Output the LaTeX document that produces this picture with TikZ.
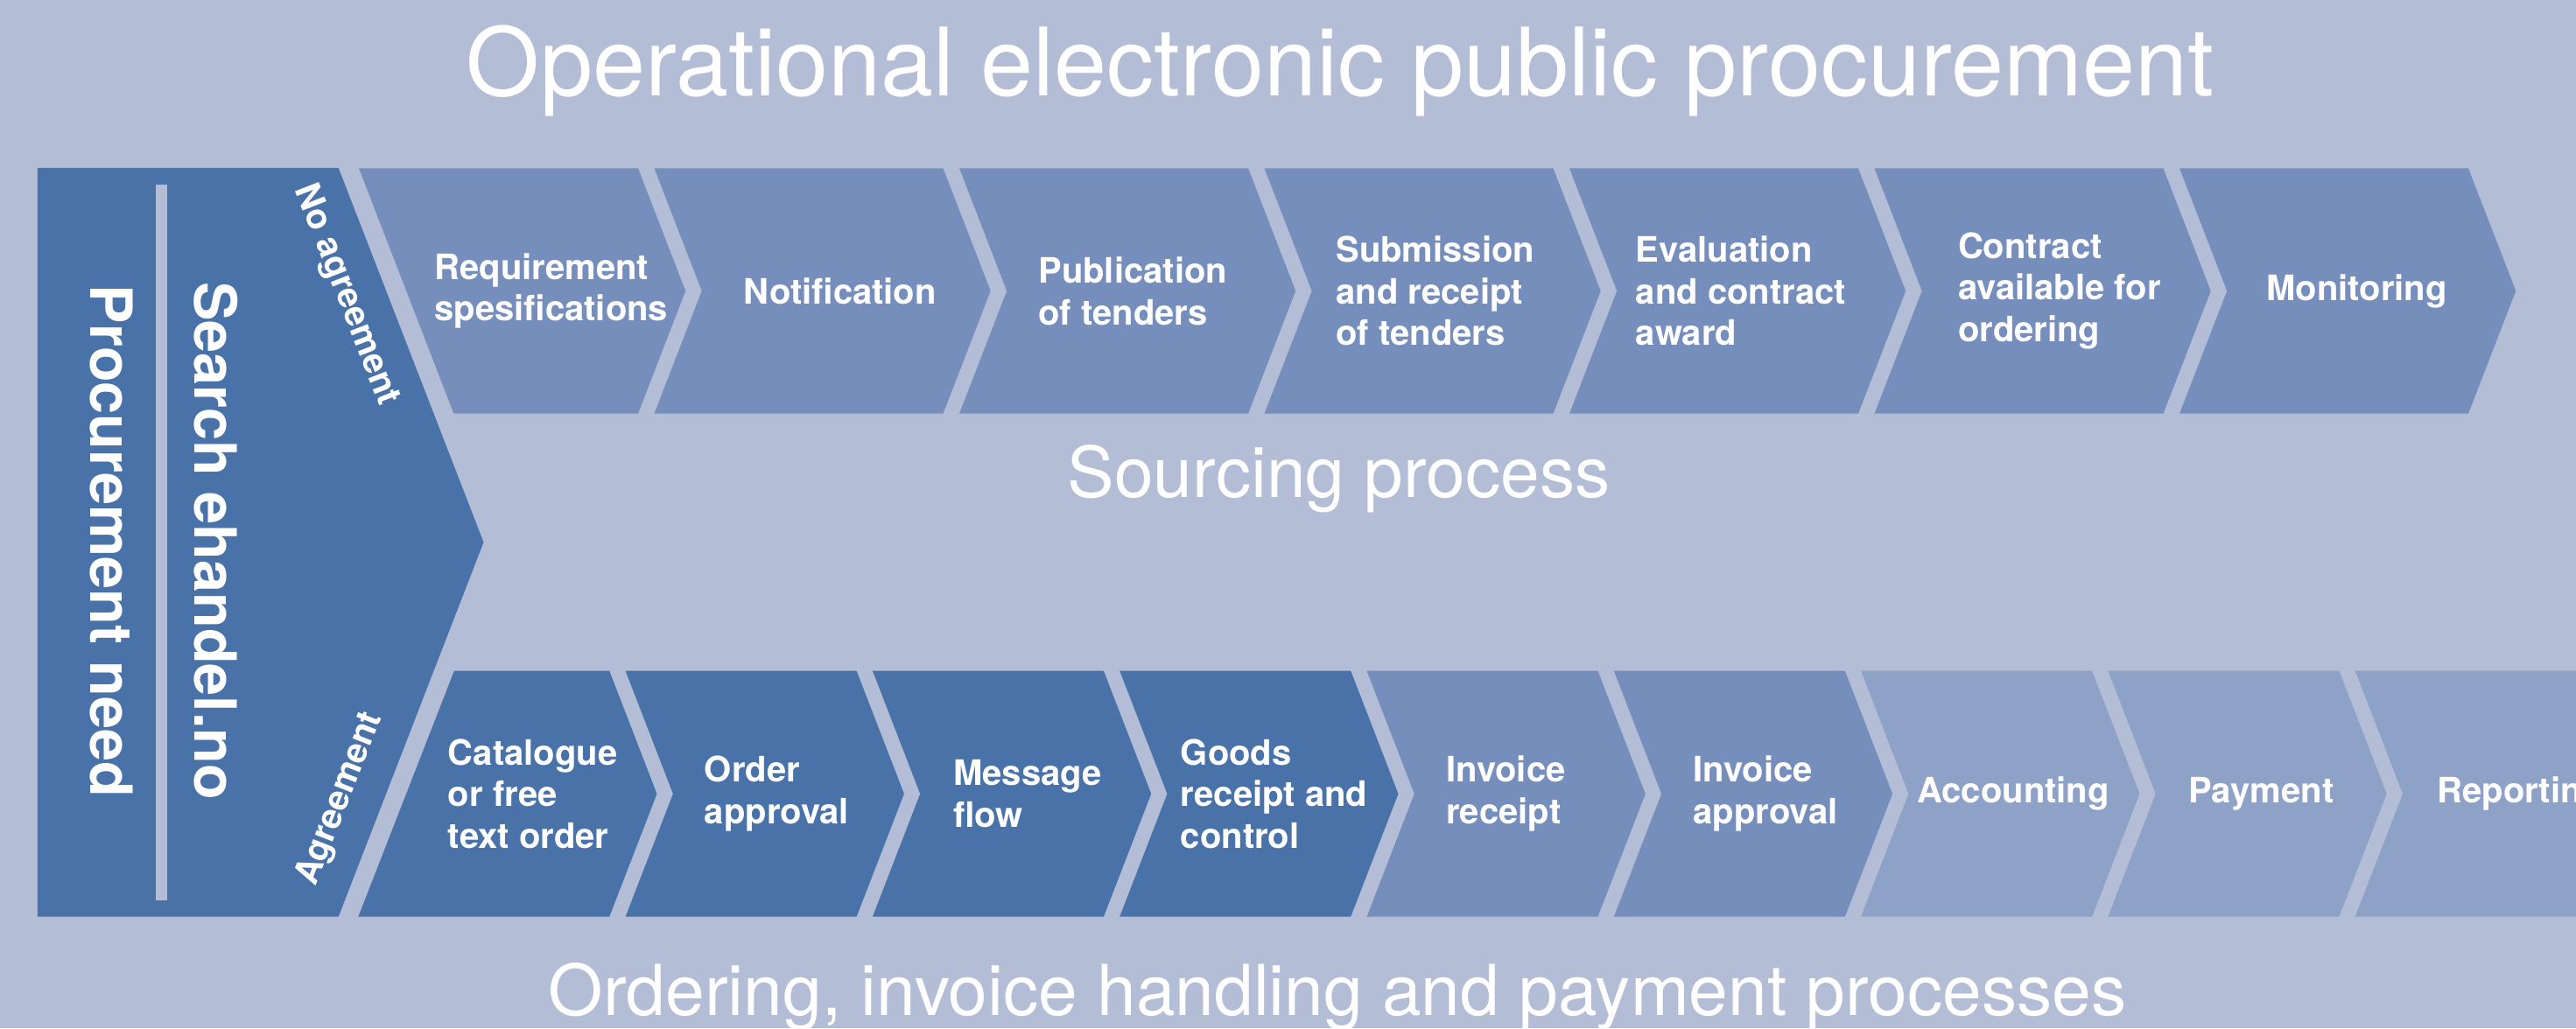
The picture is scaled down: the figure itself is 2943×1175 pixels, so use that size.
\documentclass[tikz,border=0pt]{standalone}
\usepackage{fontspec}
\setmainfont{TeX Gyre Heros}
\definecolor{bgc}{RGB}{179,189,214}
\definecolor{darkc}{RGB}{73,114,169}
\definecolor{midc}{RGB}{118,142,187}
\definecolor{lightc}{RGB}{142,161,199}
\begin{document}
\begin{tikzpicture}[x=0.5pt,y=-0.5pt,
  boxtext/.style={text=white, font=\fontsize{20pt}{23.85pt}\selectfont\bfseries, align=left, anchor=west, inner sep=0pt},
  heading/.style={text=white, font=\fontsize{40.15pt}{48pt}\selectfont, anchor=base, inner sep=0pt},
  sidebig/.style={text=white, font=\fontsize{33.3pt}{40pt}\selectfont\bfseries, anchor=base, inner sep=0pt, rotate=-90},
  sidesmall/.style={text=white, font=\fontsize{20pt}{24pt}\selectfont\bfseries, anchor=center, inner sep=0pt}]
\useasboundingbox (0,0) rectangle (2943,1175);
\clip (0,0) rectangle (2943,1175);
\fill[bgc] (0,0) rectangle (2943,1175);

% left panel
\fill[darkc] (42.9,191.8) -- (386.7,191.8) -- (552.5,619.7) -- (386.7,1047.7) -- (42.9,1047.7) -- cycle;
\fill[bgc] (178,210.6) rectangle (190.6,1029);

% top row
\fill[midc] (410,192.3) -- (729,192.3) -- (783.2,332.5) -- (729,472.7) -- (518.4,472.7) -- cycle;
\foreach \i in {0,...,5} {
  \pgfmathsetmacro\xo{747.5+348.5*\i}
  \fill[midc] (\xo,192.3) -- ++(330,0) -- ++(54.2,140.2) -- ++(-54.2,140.2) -- ++(-330,0) -- ++(54.2,-140.2) -- cycle;
}

% bottom row
\fill[darkc] (518.9,766.7) -- (696.2,766.7) -- (750.5,907.2) -- (696.2,1047.7) -- (409.3,1047.7) -- cycle;
\foreach \i/\c in {0/darkc,1/darkc,2/darkc,3/midc,4/midc,5/lightc,6/lightc,7/lightc} {
  \pgfmathsetmacro\xo{714.6+282.3*\i}
  \fill[\c] (\xo,766.7) -- ++(264,0) -- ++(54.3,140.5) -- ++(-54.3,140.5) -- ++(-264,0) -- ++(54.3,-140.5) -- cycle;
}

% headings
\node[heading, font=\fontsize{54pt}{60pt}\selectfont] (title) at (1531,109) {Operational electronic public procurement};
\node[heading] (src) at (1529.5,568.7) {Sourcing process};
\node[heading] (ord) at (1528,1160.7) {Ordering, invoice handling and payment processes};

% side texts
\node[sidebig] (need) at (103.3,618.2) {Procurement need};
\node[sidebig] (search) at (222,618.2) {Search ehandel.no};
\node[sidesmall, rotate=-68.7] (noagr) at (395,337) {No agreement};
\node[sidesmall, rotate=68.7] (agr) at (389,913) {Agreement};

% top row texts
\node[boxtext] (req) at (496,332.5) {Requirement\\spesifications};
\node[boxtext] (notif) at (849.4,332.5) {Notification};
\node[boxtext] (pub) at (1186,332.5) {Publication\\of tenders};
\node[boxtext] (subm) at (1526,332.5) {Submission\\and receipt\\of tenders};
\node[boxtext] (eval) at (1868.5,332.5) {Evaluation\\and contract\\award};
\node[boxtext] (contr) at (2236.6,332.5) {Contract\\available for\\ordering};
\node[boxtext] (monit) at (2589,332.5) {Monitoring};

% bottom row texts
\node[boxtext] (cat) at (511.5,907.2) {Catalogue\\or free\\text order};
\node[boxtext] (ordap) at (804.5,907.2) {Order\\approval};
\node[boxtext] (msg) at (1089,907.2) {Message\\flow};
\node[boxtext] (goods) at (1348.5,907.2) {Goods\\receipt and\\control};
\node[boxtext] (invrec) at (1651.8,907.2) {Invoice\\receipt};
\node[boxtext] (invap) at (1934,907.2) {Invoice\\approval};
\node[boxtext] (acc) at (2190,907.2) {Accounting};
\node[boxtext] (pay) at (2500,907.2) {Payment};
\node[boxtext] (rep) at (2784,907.2) {Reporting};
\end{tikzpicture}
\end{document}
